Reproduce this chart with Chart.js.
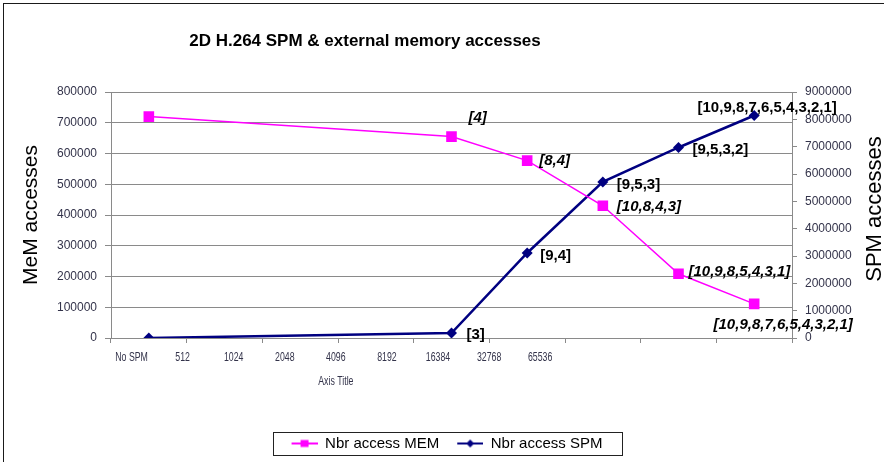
<!DOCTYPE html>
<html>
<head>
<meta charset="utf-8">
<script src="https://cdn.jsdelivr.net/npm/chart.js@4/dist/chart.umd.min.js"></script>
<style>
  html, body { margin: 0; padding: 0; background: #fff; }
  canvas { display: block; }
</style>
</head>
<body>
<canvas id="chart" width="884" height="462" style="width:884px;height:462px"></canvas>
<script>
// Scratch-pad size on the category axis
const categories = ['No SPM', '512', '1024', '2048', '4096', '8192', '16384', '32768', '65536'];

// External memory accesses (left axis) and SPM accesses (right axis)
const memAccesses = [720000, null, null, null, 655000, 577000, 430000, 209000, 111000];
const spmAccesses = [0, null, null, null, 183000, 3110000, 5710000, 6970000, 8140000];

// SPM configuration written beside each point
const memLabels = ['', '', '', '', '[4]', '[8,4]', '[10,8,4,3]', '[10,9,8,5,4,3,1]', '[10,9,8,7,6,5,4,3,2,1]'];
const spmLabels = ['', '', '', '', '[3]', '[9,4]', '[9,5,3]', '[9,5,3,2]', '[10,9,8,7,6,5,4,3,2,1]'];

// Axis ranges
const memAxisMax = 800000, memAxisStep = 100000;
const spmAxisMax = 9000000, spmAxisStep = 1000000;

const FONT = "'Liberation Sans', Arial, sans-serif";
const TICK_COLOR = '#33334a';
const AXIS_COLOR = '#8a8a8a';
const MEM_COLOR = '#FF00FF';
const SPM_COLOR = '#000080';

// Where each point label sits relative to its marker
const labelPlacement = {
  0: { font: 'italic bold 15px ' + FONT, offsets: {
        4: [17, -19, 'left'], 5: [12, 0, 'left'], 6: [14, 1, 'left'],
        7: [10, -2, 'left'], 8: [29, 21, 'center'] } },
  1: { font: 'bold 15px ' + FONT, offsets: {
        4: [15, 2, 'left'], 5: [13, 3, 'left'], 6: [14, 3, 'left'],
        7: [14, 2, 'left'], 8: [13, -8, 'center'] } }
};
const pointLabels = [memLabels, spmLabels];

// Legend swatch: a short line with the series marker in the middle
function legendSwatch(color, shape, lineWidth) {
  const c = document.createElement('canvas');
  c.width = 36; c.height = 12;
  const g = c.getContext('2d');
  g.strokeStyle = color; g.lineWidth = lineWidth;
  g.beginPath(); g.moveTo(10, 6); g.lineTo(36, 6); g.stroke();
  g.fillStyle = color;
  if (shape === 'square') {
    g.fillRect(19, 2.5, 8, 7);
  } else {
    g.beginPath(); g.moveTo(23, 2); g.lineTo(27, 6); g.lineTo(23, 10); g.lineTo(19, 6);
    g.closePath(); g.fill();
  }
  return c;
}
const swatches = [legendSwatch(MEM_COLOR, 'square', 2), legendSwatch(SPM_COLOR, 'diamond', 2)];

const plainNumber = v => String(v);

const decorations = {
  id: 'decorations',
  afterDraw(chart) {
    const ctx = chart.ctx;
    const area = chart.chartArea;
    ctx.save();

    // outer frame
    ctx.strokeStyle = '#1a1a1a';
    ctx.lineWidth = 1;
    ctx.strokeRect(3.5, 3.5, 900, 500);

    // chart title
    ctx.fillStyle = '#000';
    ctx.font = 'bold 17px ' + FONT;
    ctx.textAlign = 'center';
    ctx.textBaseline = 'middle';
    ctx.fillText('2D H.264 SPM & external memory accesses', 365, 41);

    // right axis title, reading bottom to top
    ctx.save();
    ctx.translate(875, (area.top + area.bottom) / 2 - 6);
    ctx.rotate(-Math.PI / 2);
    ctx.font = '22px ' + FONT;
    ctx.fillText('SPM accesses', 0, 0);
    ctx.restore();

    // category labels and axis title, in a horizontally compressed band
    const xs = chart.scales.x;
    ctx.save();
    ctx.translate(31.1, 0);
    ctx.scale(0.675, 1);
    ctx.fillStyle = TICK_COLOR;
    ctx.font = '13px ' + FONT;
    categories.forEach((lab, i) => ctx.fillText(lab, xs.getPixelForValue(i), 357));
    ctx.fillText('Axis Title', (area.left + area.right) / 2, 381);
    ctx.restore();

    // point labels
    ctx.fillStyle = '#000';
    ctx.textBaseline = 'middle';
    [0, 1].forEach(ds => {
      const meta = chart.getDatasetMeta(ds);
      const place = labelPlacement[ds];
      ctx.font = place.font;
      pointLabels[ds].forEach((text, i) => {
        if (!text) return;
        const pt = meta.data[i];
        const [dx, dy, align] = place.offsets[i];
        ctx.textAlign = align;
        ctx.fillText(text, pt.x + dx, pt.y + dy);
      });
    });

    // legend frame
    const boxes = chart.legend.legendHitBoxes;
    if (boxes && boxes.length) {
      const l = Math.min(...boxes.map(b => b.left)) - 9;
      const r = Math.max(...boxes.map(b => b.left + b.width)) + 19;
      const t = boxes[0].top - 4;
      const b = boxes[0].top + boxes[0].height + 4;
      ctx.strokeStyle = '#222';
      ctx.lineWidth = 1;
      ctx.strokeRect(Math.round(l) + 0.5, Math.round(t) + 0.5, Math.round(r - l), Math.round(b - t));
    }
    ctx.restore();
  }
};

new Chart(document.getElementById('chart'), {
  type: 'line',
  data: {
    labels: categories,
    datasets: [
      {
        label: 'Nbr access MEM',
        data: memAccesses,
        yAxisID: 'y',
        borderColor: MEM_COLOR,
        backgroundColor: MEM_COLOR,
        borderWidth: 1.5,
        pointStyle: 'rect',
        pointRadius: 7.5,
        pointBorderWidth: 0,
        pointBackgroundColor: MEM_COLOR,
        spanGaps: true,
        tension: 0
      },
      {
        label: 'Nbr access SPM',
        data: spmAccesses,
        yAxisID: 'y1',
        borderColor: SPM_COLOR,
        backgroundColor: SPM_COLOR,
        borderWidth: 2.5,
        pointStyle: 'rectRot',
        pointRadius: 5.5,
        pointBorderWidth: 0,
        pointBackgroundColor: SPM_COLOR,
        spanGaps: true,
        tension: 0
      }
    ]
  },
  options: {
    responsive: false,
    animation: false,
    devicePixelRatio: 1,
    layout: { padding: { top: 92, left: 0, right: 0, bottom: 1 } },
    plugins: {
      title: { display: false },
      tooltip: { enabled: false },
      legend: {
        position: 'bottom',
        labels: {
          usePointStyle: true,
          pointStyleWidth: 36,
          padding: 8,
          color: '#000',
          font: { family: FONT, size: 15 },
          generateLabels(chart) {
            const items = Chart.defaults.plugins.legend.labels.generateLabels(chart);
            items.forEach((it, i) => { it.pointStyle = swatches[i]; });
            return items;
          }
        }
      }
    },
    scales: {
      x: {
        type: 'category',
        offset: true,
        grid: { display: true, drawOnChartArea: false, drawTicks: true, tickLength: 5, color: AXIS_COLOR, offset: true },
        border: { color: AXIS_COLOR },
        ticks: { display: false },
        afterFit(s) { s.height = 90; }
      },
      y: {
        position: 'left',
        min: 0,
        max: memAxisMax,
        ticks: { stepSize: memAxisStep, padding: 8, color: TICK_COLOR, font: { family: FONT, size: 12 }, callback: plainNumber },
        grid: { color: AXIS_COLOR, tickLength: 6 },
        border: { color: AXIS_COLOR },
        title: { display: true, text: 'MeM accesses', color: '#000', font: { family: FONT, size: 21 }, padding: { top: 19, bottom: 0 } },
        afterFit(s) { s.width = 111; }
      },
      y1: {
        position: 'right',
        min: 0,
        max: spmAxisMax,
        ticks: { stepSize: spmAxisStep, padding: 8, color: TICK_COLOR, font: { family: FONT, size: 12 }, callback: plainNumber },
        grid: { drawOnChartArea: false, color: AXIS_COLOR, tickLength: 5 },
        border: { color: AXIS_COLOR },
        afterFit(s) { s.width = 92; }
      }
    }
  },
  plugins: [decorations]
});
</script>
</body>
</html>
